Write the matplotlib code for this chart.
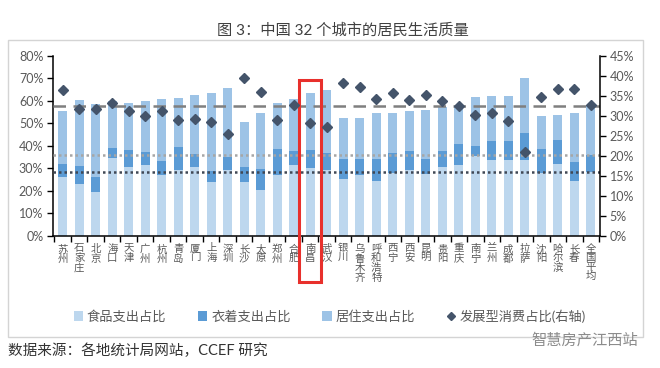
import matplotlib
matplotlib.use("Agg")
import matplotlib.pyplot as plt
import matplotlib.transforms as mtransforms
from matplotlib.patches import Rectangle, Patch
from matplotlib.lines import Line2D
import numpy as np

plt.rcParams['font.family'] = ['Lato', 'Noto Sans CJK SC', 'DejaVu Sans']

cities = ["苏州", "石家庄", "北京", "海口", "天津", "广州", "杭州", "青岛", "厦门", "上海",
          "深圳", "长沙", "太原", "郑州", "合肥", "南昌", "武汉", "银川", "乌鲁木齐", "呼和浩特",
          "西宁", "西安", "昆明", "贵阳", "重庆", "南宁", "兰州", "成都", "拉萨", "沈阳",
          "哈尔滨", "长春", "全国平均"]
food = [26.0, 23.1, 19.4, 34.5, 30.8, 31.7, 26.9, 29.3, 30.5, 24.1,
        29.3, 24.0, 20.3, 27.2, 31.4, 30.2, 29.3, 25.4, 26.9, 24.3,
        28.1, 29.4, 27.6, 30.4, 31.7, 35.4, 33.6, 33.5, 33.5, 28.0,
        31.9, 24.6, 28.6]
clothing = [6.0, 8.1, 6.6, 4.4, 7.2, 5.7, 6.2, 10.3, 5.9, 4.7,
            5.9, 6.6, 9.6, 11.3, 6.3, 8.0, 7.7, 8.8, 7.3, 9.9,
            8.9, 8.1, 6.6, 7.4, 9.0, 4.7, 8.6, 8.7, 12.1, 10.4,
            10.5, 8.4, 7.4]
housing = [23.5, 29.2, 32.4, 21.0, 21.2, 22.5, 27.6, 21.5, 26.2, 34.8,
           30.6, 19.8, 24.5, 20.7, 23.1, 25.4, 27.8, 18.2, 18.2, 20.2,
           17.6, 17.9, 21.9, 19.4, 17.2, 21.5, 19.9, 19.9, 24.6, 14.8,
           11.1, 21.7, 21.6]
development = [36.5, 31.8, 31.6, 33.3, 31.2, 30.0, 31.2, 29.0, 29.3, 28.5,
               25.4, 39.5, 35.9, 29.0, 32.6, 28.2, 27.1, 38.1, 37.3, 34.1,
               35.7, 33.9, 35.2, 33.7, 32.5, 30.3, 30.8, 28.7, 21.0, 34.7,
               36.6, 36.6, 32.6]
left_ticks = [0, 10, 20, 30, 40, 50, 60, 70, 80]
right_ticks = [0, 5, 10, 15, 20, 25, 30, 35, 40, 45]
highlight = "南昌"
national = "全国平均"

c_food = "#bdd7ee"
c_cloth = "#5b9bd5"
c_house = "#9dc3e6"
c_dev = "#44546a"
txt = "#595959"

W, H = 660, 368
fig = plt.figure(figsize=(W / 100, H / 100), dpi=100)
fig.patch.set_facecolor("white")

# outer frame
fig.patches.append(Rectangle((8 / W, 1 - 337 / H), 635 / W, (337 - 40) / H,
                             transform=fig.transFigure, fill=False,
                             edgecolor="#d4d4d4", lw=1.0))

ax = fig.add_axes([53 / W, 1 - 236 / H, 547 / W, (236 - 55.7) / H])
ax2 = ax.twinx()

x = np.arange(len(cities))
food_a = np.array(food)
cloth_a = np.array(clothing)
house_a = np.array(housing)
bw = 0.55
ax.bar(x, food_a, bw, color=c_food, zorder=2)
ax.bar(x, cloth_a, bw, bottom=food_a, color=c_cloth, zorder=2)
ax.bar(x, house_a, bw, bottom=food_a + cloth_a, color=c_house, zorder=2)

ni = cities.index(national)
ax.axhline(food_a[ni] + cloth_a[ni] + house_a[ni], color="#7f7f7f", lw=1.8,
           ls=(0, (5, 3)), zorder=3)
ax.axhline(food_a[ni] + cloth_a[ni], color="#a6a6a6", lw=1.8,
           ls=(0, (1, 1.2)), zorder=3)
ax.axhline(food_a[ni], color="#404855", lw=1.8, ls=(0, (1, 1.2)), zorder=3)

ax2.plot(x, development, ls="none", marker="D", ms=4.6, color=c_dev, zorder=4)

ax.set_xlim(-0.59, len(cities) - 0.44)
ax.set_ylim(0, 80)
ax2.set_ylim(0, 45)
ax.set_yticks(left_ticks)
ax.set_yticklabels([f"{v}%" for v in left_ticks])
ax2.set_yticks(right_ticks)
ax2.set_yticklabels([f"{v}%" for v in right_ticks])

ax.set_xticks(x)
ax.set_xticklabels(["\n".join(c) for c in cities], fontsize=7.5, color=txt,
                   va="top", linespacing=0.95)
ax.set_xticks(np.arange(len(cities) + 1) - 0.5, minor=True)
ax.tick_params(axis="x", which="major", length=0, pad=6)
ax.tick_params(axis="x", which="minor", length=4, width=1, direction="out", color="black")
ax.tick_params(axis="y", length=4, width=1, labelsize=9, labelcolor=txt, pad=3)
ax2.tick_params(axis="y", length=4, width=1, labelsize=9, labelcolor=txt, pad=3)

for a in (ax, ax2):
    a.spines["top"].set_visible(False)
    for s in ("left", "right", "bottom"):
        a.spines[s].set_color("black")
        a.spines[s].set_linewidth(1.1)
ax.spines["right"].set_visible(False)
ax2.spines["left"].set_visible(False)
ax2.spines["bottom"].set_visible(False)
ax.patch.set_visible(False)

# highlight box around 南昌
hi = cities.index(highlight)
trans = mtransforms.blended_transform_factory(ax.transData, ax.transAxes)
ax.add_patch(Rectangle((hi - 0.67, -0.255), 1.34, 1.12, transform=trans,
                       fill=False, edgecolor="#e8302c", lw=2.2, clip_on=False, zorder=6))

handles = [Patch(facecolor=c_food, edgecolor="none"),
           Patch(facecolor=c_cloth, edgecolor="none"),
           Patch(facecolor=c_house, edgecolor="none"),
           Line2D([], [], ls="none", marker="D", ms=4, color=c_dev)]
labels = ["食品支出占比", "衣着支出占比", "居住支出占比", "发展型消费占比(右轴)"]
fig.legend(handles, labels, loc="center", bbox_to_anchor=(0.5, 1 - 316 / H), ncol=4,
           frameon=False, fontsize=9.5, labelcolor=txt, handlelength=0.7,
           handleheight=0.7, handletextpad=0.3, columnspacing=2.4)

fig.text(0.52, 1 - 30.5 / H, "图 3：中国 32 个城市的居民生活质量", ha="center", va="center",
         fontsize=11, color="#404040")
fig.text(8 / W, 1 - 351 / H, "数据来源：各地统计局网站，CCEF 研究", ha="left", va="center",
         fontsize=10.5, color="#333333")
fig.text(638 / W, 1 - 340 / H, "智慧房产江西站", ha="right", va="center",
         fontsize=11, color="#8c8c8c")

fig.savefig("out.png", dpi=100, facecolor="white")
